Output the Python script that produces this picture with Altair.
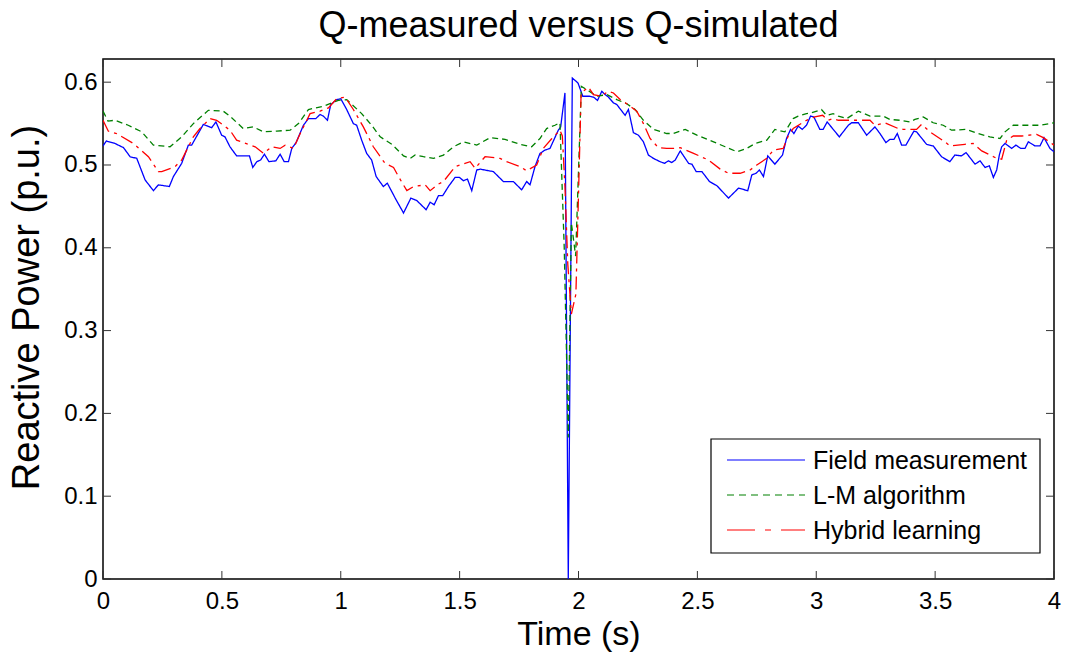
import altair as alt
import pandas as pd

# ---------------- data ----------------
blue_t = [0.000, 0.014, 0.050, 0.086, 0.114, 0.142, 0.177, 0.212, 0.233, 0.279, 0.296, 0.331, 0.359, 0.373,
          0.422, 0.457, 0.475, 0.499, 0.513, 0.534, 0.562, 0.616, 0.630, 0.647, 0.663, 0.679, 0.698, 0.727,
          0.745, 0.762, 0.780, 0.794, 0.812, 0.843, 0.864, 0.895, 0.913, 0.927, 0.944, 0.958, 0.983, 1.000,
          1.025, 1.053, 1.067, 1.088, 1.109, 1.130, 1.149, 1.179, 1.196, 1.229, 1.264, 1.295, 1.320, 1.359,
          1.376, 1.393, 1.411, 1.429, 1.453, 1.481, 1.499, 1.516, 1.533, 1.551, 1.572, 1.586, 1.642, 1.684,
          1.726, 1.761, 1.782, 1.796, 1.817, 1.838, 1.859, 1.880, 1.915, 1.925, 1.943, 1.957, 1.974, 1.998,
          2.018, 2.046, 2.063, 2.080, 2.098, 2.112, 2.126, 2.147, 2.161, 2.196, 2.210, 2.231, 2.252, 2.273,
          2.294, 2.315, 2.343, 2.362, 2.378, 2.392, 2.407, 2.428, 2.463, 2.477, 2.495, 2.519, 2.551, 2.582,
          2.631, 2.673, 2.712, 2.729, 2.747, 2.761, 2.778, 2.796, 2.826, 2.858, 2.875, 2.892, 2.906, 2.924,
          2.941, 2.959, 2.976, 2.990, 3.015, 3.029, 3.046, 3.097, 3.135, 3.149, 3.177, 3.212, 3.247, 3.268,
          3.293, 3.310, 3.327, 3.341, 3.359, 3.377, 3.411, 3.422, 3.464, 3.492, 3.527, 3.562, 3.583, 3.611,
          3.630, 3.668, 3.689, 3.710, 3.728, 3.745, 3.759, 3.770, 3.780, 3.794, 3.822, 3.840, 3.860, 3.878,
          3.892, 3.920, 3.941, 3.958, 3.983, 4.000]
blue_q = [0.523, 0.529, 0.526, 0.521, 0.510, 0.508, 0.482, 0.469, 0.476, 0.474, 0.486, 0.502, 0.524, 0.524,
          0.549, 0.545, 0.552, 0.536, 0.534, 0.522, 0.511, 0.511, 0.497, 0.504, 0.506, 0.513, 0.504, 0.505,
          0.513, 0.504, 0.504, 0.520, 0.527, 0.548, 0.556, 0.556, 0.561, 0.559, 0.554, 0.573, 0.579, 0.580,
          0.567, 0.550, 0.548, 0.530, 0.514, 0.506, 0.486, 0.474, 0.478, 0.460, 0.442, 0.460, 0.457, 0.446,
          0.455, 0.452, 0.463, 0.463, 0.474, 0.485, 0.485, 0.481, 0.483, 0.469, 0.494, 0.495, 0.492, 0.480,
          0.480, 0.470, 0.480, 0.476, 0.498, 0.514, 0.518, 0.520, 0.542, 0.546, 0.587, 0.000, 0.605, 0.599,
          0.583, 0.583, 0.582, 0.578, 0.589, 0.585, 0.582, 0.575, 0.573, 0.560, 0.567, 0.539, 0.536, 0.528,
          0.512, 0.508, 0.504, 0.502, 0.505, 0.503, 0.506, 0.517, 0.502, 0.501, 0.492, 0.492, 0.480, 0.475,
          0.460, 0.472, 0.469, 0.488, 0.490, 0.494, 0.486, 0.511, 0.501, 0.512, 0.532, 0.543, 0.538, 0.547,
          0.543, 0.548, 0.559, 0.558, 0.543, 0.543, 0.552, 0.534, 0.548, 0.551, 0.551, 0.536, 0.546, 0.538,
          0.527, 0.531, 0.531, 0.538, 0.524, 0.524, 0.541, 0.540, 0.525, 0.523, 0.510, 0.504, 0.512, 0.511,
          0.515, 0.501, 0.505, 0.497, 0.499, 0.485, 0.494, 0.512, 0.522, 0.526, 0.520, 0.524, 0.520, 0.520,
          0.528, 0.523, 0.523, 0.533, 0.520, 0.516]

green_t = [0.000, 0.021, 0.050, 0.106, 0.163, 0.212, 0.282, 0.331, 0.380, 0.443, 0.506, 0.534, 0.590, 0.632,
           0.675, 0.731, 0.787, 0.822, 0.864, 0.927, 0.990, 1.025, 1.088, 1.130, 1.166, 1.215, 1.264, 1.292,
           1.313, 1.348, 1.390, 1.432, 1.474, 1.516, 1.572, 1.628, 1.691, 1.754, 1.803, 1.838, 1.866, 1.901,
           1.922, 1.940, 1.957, 1.970, 1.988, 2.012, 2.035, 2.077, 2.119, 2.161, 2.203, 2.238, 2.273, 2.315,
           2.371, 2.399, 2.449, 2.498, 2.568, 2.617, 2.666, 2.708, 2.743, 2.792, 2.826, 2.868, 2.903, 2.924,
           2.959, 2.980, 3.022, 3.043, 3.071, 3.093, 3.128, 3.177, 3.226, 3.282, 3.310, 3.352, 3.394, 3.415,
           3.450, 3.492, 3.534, 3.569, 3.632, 3.681, 3.730, 3.773, 3.794, 3.829, 3.885, 3.941, 4.000]
green_q = [0.565, 0.553, 0.554, 0.548, 0.540, 0.524, 0.522, 0.534, 0.550, 0.566, 0.565, 0.559, 0.544, 0.546,
           0.540, 0.541, 0.542, 0.550, 0.567, 0.571, 0.578, 0.579, 0.562, 0.548, 0.534, 0.525, 0.511, 0.508,
           0.512, 0.510, 0.508, 0.512, 0.522, 0.528, 0.524, 0.533, 0.531, 0.525, 0.522, 0.532, 0.544, 0.548,
           0.551, 0.400, 0.171, 0.430, 0.390, 0.595, 0.591, 0.583, 0.585, 0.579, 0.574, 0.567, 0.554, 0.543,
           0.538, 0.538, 0.543, 0.536, 0.528, 0.522, 0.516, 0.520, 0.526, 0.530, 0.543, 0.540, 0.556, 0.559,
           0.562, 0.563, 0.567, 0.560, 0.562, 0.559, 0.556, 0.565, 0.559, 0.559, 0.555, 0.554, 0.552, 0.555,
           0.558, 0.551, 0.548, 0.542, 0.543, 0.538, 0.534, 0.532, 0.540, 0.548, 0.548, 0.548, 0.551]

red_t = [0.000, 0.022, 0.057, 0.128, 0.191, 0.233, 0.247, 0.303, 0.331, 0.380, 0.408, 0.450, 0.478, 0.534,
         0.562, 0.640, 0.675, 0.710, 0.745, 0.766, 0.801, 0.836, 0.871, 0.913, 0.948, 0.983, 1.018, 1.053,
         1.095, 1.137, 1.186, 1.222, 1.243, 1.278, 1.306, 1.355, 1.376, 1.411, 1.432, 1.481, 1.544, 1.565,
         1.607, 1.670, 1.698, 1.754, 1.782, 1.824, 1.852, 1.888, 1.922, 1.932, 1.943, 1.955, 1.970, 1.989,
         1.998, 2.011, 2.042, 2.063, 2.094, 2.126, 2.147, 2.175, 2.203, 2.245, 2.273, 2.301, 2.336, 2.371,
         2.407, 2.428, 2.484, 2.547, 2.596, 2.631, 2.680, 2.722, 2.750, 2.792, 2.820, 2.861, 2.882, 2.903,
         2.959, 2.994, 3.027, 3.050, 3.071, 3.093, 3.142, 3.226, 3.247, 3.289, 3.345, 3.366, 3.422, 3.443,
         3.478, 3.541, 3.562, 3.625, 3.660, 3.696, 3.759, 3.780, 3.801, 3.829, 3.864, 3.927, 3.955, 4.000]
red_q = [0.554, 0.541, 0.538, 0.526, 0.510, 0.492, 0.492, 0.498, 0.506, 0.534, 0.544, 0.556, 0.554, 0.542,
         0.530, 0.522, 0.514, 0.522, 0.520, 0.524, 0.520, 0.542, 0.562, 0.565, 0.569, 0.580, 0.582, 0.567,
         0.546, 0.522, 0.502, 0.497, 0.486, 0.469, 0.474, 0.476, 0.469, 0.477, 0.480, 0.498, 0.504, 0.496,
         0.510, 0.508, 0.504, 0.498, 0.493, 0.500, 0.520, 0.532, 0.542, 0.535, 0.474, 0.380, 0.320, 0.344,
         0.442, 0.587, 0.594, 0.585, 0.583, 0.589, 0.587, 0.579, 0.574, 0.565, 0.550, 0.532, 0.521, 0.520,
         0.520, 0.521, 0.514, 0.506, 0.495, 0.490, 0.490, 0.494, 0.500, 0.508, 0.518, 0.520, 0.535, 0.544,
         0.554, 0.558, 0.560, 0.554, 0.556, 0.554, 0.554, 0.554, 0.548, 0.551, 0.544, 0.543, 0.543, 0.549,
         0.540, 0.528, 0.523, 0.525, 0.526, 0.517, 0.508, 0.507, 0.530, 0.535, 0.535, 0.537, 0.533, 0.524]

series_names = ["Field measurement", "L-M algorithm", "Hybrid learning"]
series_colors = ["#0000FF", "#008000", "#FF0000"]

x_ticks = [0, 0.5, 1, 1.5, 2, 2.5, 3, 3.5, 4]
y_ticks = [0, 0.1, 0.2, 0.3, 0.4, 0.5, 0.6]

# ---------------- layout ----------------
W, H = 951, 520
FONT = "Liberation Sans"
x_dom = [0, 4]
y_dom = [0, 0.628]

xs = alt.Scale(domain=x_dom, nice=False, zero=False)
ys = alt.Scale(domain=y_dom, nice=False, zero=False)
ax_x = alt.Axis(values=x_ticks, format="~g", title="Time (s)", labelFlush=False)
ax_y = alt.Axis(values=y_ticks, format="~g", title="Reactive Power (p.u.)", labelFlush=False)

dashes = [[1, 0], [6, 4], [13, 5, 3, 5]]
series_data = [(blue_t, blue_q), (green_t, green_q), (red_t, red_q)]

layers = []
for i, (tt, qq) in enumerate(series_data):
    df = pd.DataFrame({"t": tt, "q": qq, "order": list(range(len(tt)))})
    layers.append(
        alt.Chart(df).mark_line(color=series_colors[i], strokeWidth=1.3, strokeDash=dashes[i], clip=True)
        .encode(x=alt.X("t:Q", scale=xs, axis=ax_x),
                y=alt.Y("q:Q", scale=ys, axis=ax_y),
                order="order:Q")
    )

# inside ticks on all four sides
xt = pd.DataFrame({"t": x_ticks})
yt = pd.DataFrame({"q": y_ticks})
TL = 8
tick_color = "#333333"
layers.append(alt.Chart(xt).mark_rule(color=tick_color, strokeWidth=1).encode(
    x=alt.X("t:Q", scale=xs, axis=ax_x), y=alt.value(H), y2=alt.value(H - TL)))
layers.append(alt.Chart(xt).mark_rule(color=tick_color, strokeWidth=1).encode(
    x=alt.X("t:Q", scale=xs, axis=ax_x), y=alt.value(0), y2=alt.value(TL)))
layers.append(alt.Chart(yt).mark_rule(color=tick_color, strokeWidth=1).encode(
    y=alt.Y("q:Q", scale=ys, axis=ax_y), x=alt.value(0), x2=alt.value(TL)))
layers.append(alt.Chart(yt).mark_rule(color=tick_color, strokeWidth=1).encode(
    y=alt.Y("q:Q", scale=ys, axis=ax_y), x=alt.value(W), x2=alt.value(W - TL)))

# legend box
one = pd.DataFrame({"a": [0]})
layers.append(alt.Chart(one).mark_rect(fill="white", stroke="black", strokeWidth=1.2).encode(
    x=alt.value(608), x2=alt.value(937), y=alt.value(380), y2=alt.value(494)))
leg_dashes = [[1, 0], [7, 5], [28, 10, 6, 10]]
for i, name in enumerate(series_names):
    ly = 401 + 35 * i
    layers.append(alt.Chart(one).mark_rule(color=series_colors[i], strokeWidth=1.2,
                                           strokeDash=leg_dashes[i]).encode(
        x=alt.value(624), x2=alt.value(702), y=alt.value(ly)))
    ndf = pd.DataFrame({"name": [name]})
    layers.append(alt.Chart(ndf).mark_text(align="left", baseline="middle", font=FONT,
                                           fontSize=25, color="black").encode(
        x=alt.value(710), y=alt.value(ly + 1), text="name:N"))

chart = alt.layer(*layers).properties(
    width=W, height=H,
    background="white",
    title=alt.TitleParams("Q-measured versus Q-simulated", font=FONT, fontSize=36,
                          fontWeight="normal", color="black", anchor="middle", offset=14),
    autosize=alt.AutoSizeParams(type="none"),
    padding={"left": 103, "top": 59, "right": 17, "bottom": 82},
).configure_view(
    stroke="black", strokeWidth=1.5
).configure_axis(
    domain=False, ticks=False, grid=False,
    labelFont=FONT, labelFontSize=24, labelColor="black",
    titleFont=FONT, titleFontWeight="normal", titleColor="black",
).configure_axisX(
    labelPadding=10, titleFontSize=34, titlePadding=4,
).configure_axisY(
    labelPadding=6, titleFontSize=38, titleX=-76, titleY=248,
    titleAlign="center", titleBaseline="middle", titleAngle=270,
)

chart.save("out.html", embed_options={"renderer": "svg", "actions": False})
